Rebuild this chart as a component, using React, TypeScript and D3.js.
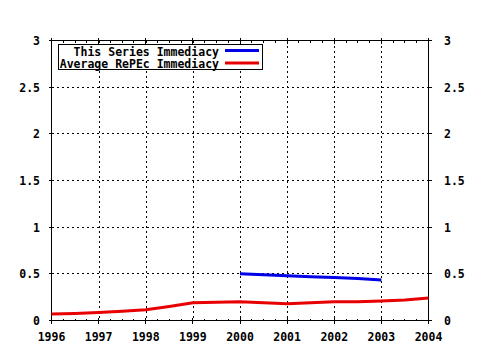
import React from "react";
import * as d3 from "d3";

const xTicks = [1996, 1997, 1998, 1999, 2000, 2001, 2002, 2003, 2004];
const yTicks = [0, 0.5, 1, 1.5, 2, 2.5, 3];
const yTickLabels = ["0", "0.5", "1", "1.5", "2", "2.5", "3"];

const seriesYears = [2000.0, 2000.5, 2001.0, 2001.5, 2002.0, 2002.5, 2003.0];
const seriesValues = [0.5, 0.49, 0.48, 0.47, 0.46, 0.45, 0.435];

const avgYears = [1996.0, 1996.5, 1997.0, 1997.5, 1998.0, 1998.5, 1999.0, 1999.5, 2000.0, 2000.5, 2001.0, 2001.5, 2002.0, 2002.5, 2003.0, 2003.5, 2004.0];
const avgValues = [0.07, 0.075, 0.085, 0.1, 0.115, 0.15, 0.19, 0.195, 0.2, 0.19, 0.18, 0.19, 0.2, 0.2, 0.21, 0.22, 0.24];

const legendLabels = ["This Series Immediacy", "Average RePEc Immediacy"];
const colors = ["#0000e8", "#e80000"];

export default function App() {
  const W = 480, H = 350;
  const x = d3.scaleLinear().domain([1996, 2004]).range([51.5, 428.5]);
  const y = d3.scaleLinear().domain([0, 3]).range([320.5, 40.5]);
  const line = d3.line<[number, number]>().x(d => x(d[0])).y(d => y(d[1]));
  const blue = line(seriesYears.map((t, i) => [t, seriesValues[i]]) as [number, number][]) || "";
  const red = line(avgYears.map((t, i) => [t, avgValues[i]]) as [number, number][]) || "";
  const minor: number[] = [];
  for (let yr = 1996; yr < 2004; yr++) for (let q = 1; q < 4; q++) minor.push(yr + q / 4);
  const font = { fontFamily: "'DejaVu Sans Mono', monospace", fontWeight: "bold" as const, fontSize: 11.5 };
  const [x0, x1] = x.range();
  const [y0, y1] = y.range();
  return (
    <svg width={W} height={H} style={{ position: "absolute", left: 0, top: 0, background: "#fff" }}>
      <rect x={0} y={0} width={W} height={H} fill="#fff" />
      {/* grid */}
      {xTicks.slice(1, -1).map(t => (
        <line key={"gx" + t} x1={Math.round(x(t)) + 0.5} x2={Math.round(x(t)) + 0.5} y1={y1} y2={y0} stroke="#000" strokeDasharray="2,3" shapeRendering="crispEdges" />
      ))}
      {yTicks.slice(1, -1).map(t => (
        <line key={"gy" + t} x1={x0} x2={x1} y1={Math.round(y(t) - 0.5) + 0.5} y2={Math.round(y(t) - 0.5) + 0.5} stroke="#000" strokeDasharray="2,3" shapeRendering="crispEdges" />
      ))}
      {/* ticks */}
      {xTicks.map(t => {
        const px = Math.round(x(t) - 0.5) + 0.5;
        return (
          <g key={"tx" + t}>
            <line x1={px} x2={px} y1={y0 + 3} y2={y0 - 3} stroke="#000" shapeRendering="crispEdges" />
            <line x1={px} x2={px} y1={y1 - 3} y2={y1 + 3} stroke="#000" shapeRendering="crispEdges" />
            <text x={x(t)} y={341} textAnchor="middle" {...font}>{t}</text>
          </g>
        );
      })}
      {minor.map(t => {
        const px = Math.round(x(t) - 0.5) + 0.5;
        return (
          <g key={"mx" + t}>
            <line x1={px} x2={px} y1={y0} y2={y0 - 2} stroke="#000" shapeRendering="crispEdges" />
            <line x1={px} x2={px} y1={y1} y2={y1 + 2} stroke="#000" shapeRendering="crispEdges" />
          </g>
        );
      })}
      {yTicks.map((t, i) => {
        const py = Math.round(y(t) - 0.5) + 0.5;
        return (
          <g key={"ty" + t}>
            <line x1={x0 - 3} x2={x0 + 2} y1={py} y2={py} stroke="#000" shapeRendering="crispEdges" />
            <line x1={x1 - 2} x2={x1 + 3} y1={py} y2={py} stroke="#000" shapeRendering="crispEdges" />
            <text x={40} y={py + 4.5} textAnchor="end" {...font}>{yTickLabels[i]}</text>
            <text x={444} y={py + 4.5} textAnchor="start" {...font}>{yTickLabels[i]}</text>
          </g>
        );
      })}
      {/* border */}
      <rect x={x0} y={y1} width={x1 - x0} height={y0 - y1} fill="none" stroke="#000" shapeRendering="crispEdges" />
      {/* legend */}
      <rect x={58.5} y={44.5} width={204} height={25} fill="#fff" stroke="#000" shapeRendering="crispEdges" />
      {legendLabels.map((l, i) => (
        <g key={l}>
          <text x={219} y={55.5 + i * 12.5} textAnchor="end" {...font}>{l}</text>
          <line x1={225} x2={259} y1={50.5 + i * 12.5} y2={50.5 + i * 12.5} stroke={colors[i]} strokeWidth={3} />
        </g>
      ))}
      {/* data */}
      <path d={red} fill="none" stroke={colors[1]} strokeWidth={3} />
      <path d={blue} fill="none" stroke={colors[0]} strokeWidth={3} />
    </svg>
  );
}
